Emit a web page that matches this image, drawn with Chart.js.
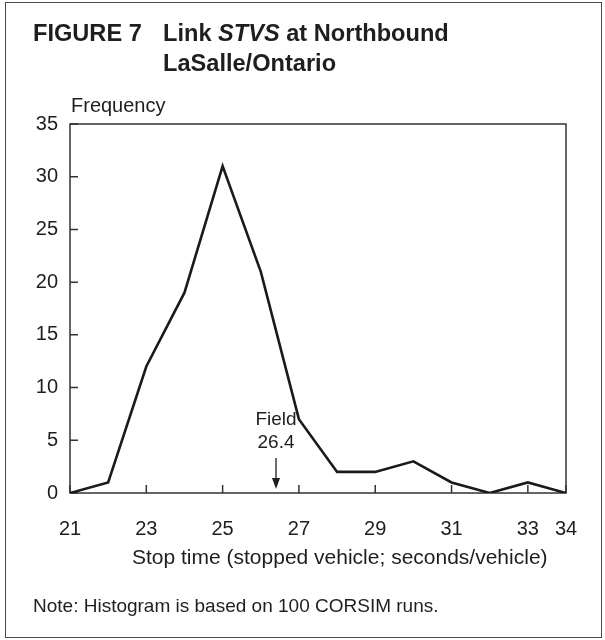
<!DOCTYPE html>
<html>
<head>
<meta charset="utf-8">
<script src="https://cdn.jsdelivr.net/npm/chart.js@4.4.1/dist/chart.umd.min.js"></script>
<style>
    body { margin: 0; background: #fff; }
    #wrap { position: relative; width: 605px; height: 640px; font-family: "Liberation Sans", Arial, Helvetica, sans-serif; color: #1e1e1e; }
    #frame { position: absolute; left: 5px; top: 2px; width: 595px; height: 634px; border: 1.5px solid #4a4a4a; }
    canvas { position: absolute; left: 0; top: 0; }
    .txt { position: absolute; white-space: nowrap; }
    #titulo { left: 33px; top: 18px; font-size: 23.6px; font-weight: bold; line-height: 30px; display: flex; }
    #titulo .num { width: 130px; }
    #freq { left: 71px; top: 93px; font-size: 20px; line-height: 24px; }
    #eixoX { left: 132px; top: 544px; font-size: 21px; line-height: 25px; }
    #nota { left: 33px; top: 594px; font-size: 19px; line-height: 23px; }
</style>
</head>
<body>
<div id="wrap">
    <div id="frame"></div>
    <canvas id="graficoStop" width="605" height="640"></canvas>
    <div class="txt" id="titulo"><span class="num">FIGURE 7</span><span>Link <i>STVS</i> at Northbound<br>LaSalle/Ontario</span></div>
    <div class="txt" id="freq">Frequency</div>
    <div class="txt" id="eixoX">Stop time (stopped vehicle; seconds/vehicle)</div>
    <div class="txt" id="nota">Note: Histogram is based on 100 CORSIM runs.</div>
</div>
<script>
const temposParada = [21, 22, 23, 24, 25, 26, 27, 28, 29, 30, 31, 32, 33, 34];
const frequencias = [0, 1, 12, 19, 31, 21, 7, 2, 2, 3, 1, 0, 1, 0];
const ticksX = [21, 23, 25, 27, 29, 31, 33, 34];
const ticksY = [0, 5, 10, 15, 20, 25, 30, 35];
const valorCampo = 26.4;
const rotuloCampo = ["Field", "26.4"];

const fonte = "'Liberation Sans', Arial, Helvetica, sans-serif";

// moldura do grafico, ticks para dentro e a seta do valor de campo
const moldura = {
    id: "moldura",
    beforeDatasetsDraw(chart) {
        const { ctx, chartArea: a, scales: { x, y } } = chart;
        ctx.save();
        ctx.strokeStyle = "#333";
        ctx.lineWidth = 1.5;
        ctx.strokeRect(a.left, a.top, a.right - a.left, a.bottom - a.top);
        ctx.beginPath();
        ticksY.forEach(v => {
            const py = y.getPixelForValue(v);
            ctx.moveTo(a.left, py);
            ctx.lineTo(a.left + 8, py);
        });
        ticksX.forEach(v => {
            const px = x.getPixelForValue(v);
            ctx.moveTo(px, a.bottom);
            ctx.lineTo(px, a.bottom - 8);
        });
        ctx.stroke();
        ctx.restore();
    },
    afterDatasetsDraw(chart) {
        const { ctx, scales: { x, y } } = chart;
        const px = x.getPixelForValue(valorCampo);
        const ponta = y.getPixelForValue(0) - 4;
        ctx.save();
        ctx.strokeStyle = "#1e1e1e";
        ctx.fillStyle = "#1e1e1e";
        ctx.lineWidth = 1.3;
        ctx.beginPath();
        ctx.moveTo(px, ponta - 31);
        ctx.lineTo(px, ponta - 8);
        ctx.stroke();
        ctx.beginPath();
        ctx.moveTo(px - 4, ponta - 11);
        ctx.lineTo(px + 4, ponta - 11);
        ctx.lineTo(px, ponta);
        ctx.closePath();
        ctx.fill();
        ctx.font = "19px " + fonte;
        ctx.textAlign = "center";
        ctx.textBaseline = "middle";
        ctx.fillText(rotuloCampo[0], px, ponta - 69);
        ctx.fillText(rotuloCampo[1], px, ponta - 46);
        ctx.restore();
    }
};

const ctx = document.getElementById("graficoStop").getContext("2d");
new Chart(ctx, {
    type: "line",
    data: {
        datasets: [{
            data: temposParada.map((t, i) => ({ x: t, y: frequencias[i] })),
            borderColor: "#1a1a1a",
            borderWidth: 2.6,
            pointRadius: 0,
            tension: 0,
            fill: false
        }]
    },
    options: {
        responsive: false,
        animation: false,
        layout: { padding: { top: 124, right: 39, bottom: 0, left: 0 } },
        plugins: {
            legend: { display: false },
            tooltip: { enabled: false }
        },
        scales: {
            x: {
                type: "linear",
                min: 21,
                max: 34,
                afterBuildTicks: escala => { escala.ticks = ticksX.map(v => ({ value: v })); },
                afterFit: escala => { escala.height = 147; },
                grid: { display: false, drawTicks: false },
                border: { display: false },
                ticks: {
                    padding: 24,
                    maxRotation: 0,
                    autoSkip: false,
                    color: "#1e1e1e",
                    font: { family: fonte, size: 20 }
                }
            },
            y: {
                min: 0,
                max: 35,
                afterBuildTicks: escala => { escala.ticks = ticksY.map(v => ({ value: v })); },
                afterFit: escala => { escala.width = 70; },
                grid: { display: false, drawTicks: false },
                border: { display: false },
                ticks: {
                    padding: 12,
                    color: "#1e1e1e",
                    font: { family: fonte, size: 20 }
                }
            }
        }
    },
    plugins: [moldura]
});
</script>
</body>
</html>
